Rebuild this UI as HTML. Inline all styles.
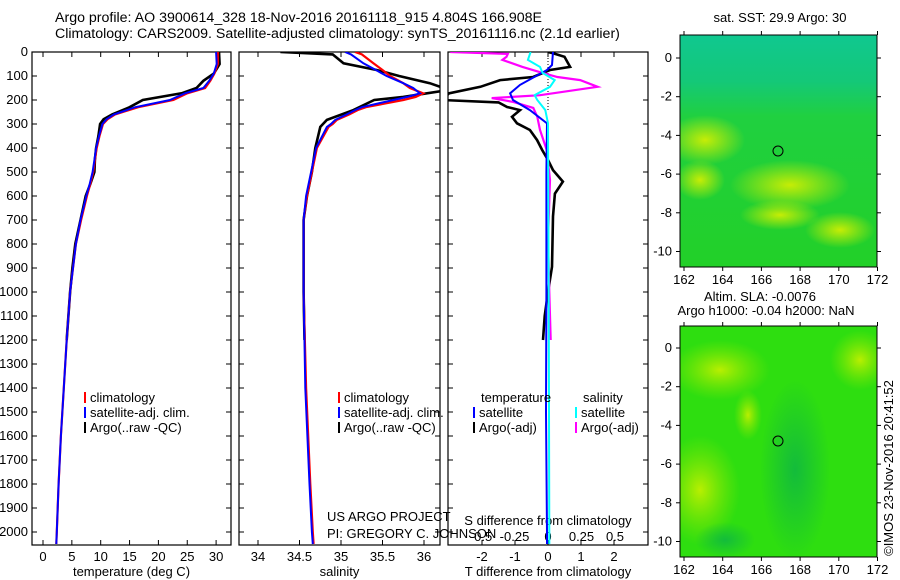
<!DOCTYPE html>
<html><head><meta charset="utf-8"><style>
body{margin:0;background:#fff;}
svg{display:block;font-family:"Liberation Sans",sans-serif;font-size:13px;}
</style></head><body>
<svg id="fig" width="900" height="580" viewBox="0 0 900 580">
<defs>
<clipPath id="c1"><rect x="32" y="52" width="199" height="493"/></clipPath>
<clipPath id="c2"><rect x="239" y="52" width="201" height="493"/></clipPath>
<clipPath id="c3"><rect x="448" y="52" width="200" height="493"/></clipPath>
<clipPath id="cm1"><rect x="680" y="35" width="197" height="232"/></clipPath>
<clipPath id="cm2"><rect x="680" y="326" width="197" height="231"/></clipPath>
<linearGradient id="sstg" x1="0" y1="0" x2="0" y2="1">
<stop offset="0" stop-color="#10c890"/><stop offset="0.2" stop-color="#14c878"/><stop offset="0.35" stop-color="#20d040"/><stop offset="1" stop-color="#22d028"/></linearGradient>
<radialGradient id="yl"><stop offset="0" stop-color="#d8f000" stop-opacity="0.9"/><stop offset="1" stop-color="#d8f000" stop-opacity="0"/></radialGradient>
<radialGradient id="yl2"><stop offset="0" stop-color="#c0f000" stop-opacity="0.95"/><stop offset="1" stop-color="#90e800" stop-opacity="0"/></radialGradient>
<radialGradient id="dk"><stop offset="0" stop-color="#10b840" stop-opacity="0.9"/><stop offset="1" stop-color="#10b840" stop-opacity="0"/></radialGradient>
</defs>
<text x="55" y="22" font-size="14.2">Argo profile: AO 3900614_328 18-Nov-2016 20161118_915 4.804S 166.908E</text>
<text x="55" y="38" font-size="14.2">Climatology: CARS2009. Satellite-adjusted climatology: synTS_20161116.nc (2.1d earlier)</text>
<g id="p1"></g>
<g id="p2"></g>
<g id="p3"></g>

<g>
<text x="780" y="22" text-anchor="middle">sat. SST: 29.9 Argo: 30</text>
<g clip-path="url(#cm1)">
<rect x="680" y="35" width="197" height="232" fill="url(#sstg)"/>
<ellipse cx="705" cy="140" rx="40" ry="25" fill="url(#yl)"/>
<ellipse cx="790" cy="185" rx="60" ry="25" fill="url(#yl)"/>
<ellipse cx="700" cy="180" rx="25" ry="20" fill="url(#yl)"/>
<ellipse cx="840" cy="230" rx="35" ry="18" fill="url(#yl)"/>
<ellipse cx="780" cy="215" rx="40" ry="15" fill="url(#yl)"/>
</g>
<circle cx="778" cy="151" r="5" fill="none" stroke="#000"/>
<rect x="680" y="35" width="197" height="232" fill="none" stroke="#000"/>
<g id="m1ax"></g>
</g>
<g>
<text x="760" y="301" text-anchor="middle">Altim. SLA: -0.0076</text>
<text x="766" y="315" text-anchor="middle">Argo h1000: -0.04 h2000: NaN</text>
<g clip-path="url(#cm2)">
<rect x="680" y="326" width="197" height="231" fill="#2ede10"/>
<ellipse cx="720" cy="370" rx="50" ry="30" fill="url(#yl2)"/>
<ellipse cx="700" cy="490" rx="40" ry="55" fill="url(#yl2)"/>
<ellipse cx="748" cy="415" rx="14" ry="25" fill="url(#yl2)"/>
<ellipse cx="860" cy="360" rx="30" ry="30" fill="url(#yl2)"/>
<ellipse cx="795" cy="470" rx="35" ry="90" fill="url(#dk)"/>
<ellipse cx="725" cy="540" rx="30" ry="18" fill="url(#dk)"/>
</g>
<circle cx="778" cy="441" r="5" fill="none" stroke="#000"/>
<rect x="680" y="326" width="197" height="231" fill="none" stroke="#000"/>
<g id="m2ax"></g>
</g>
<text x="0" y="0" transform="translate(893,468) rotate(-90)" text-anchor="middle">©IMOS 23-Nov-2016 20:41:52</text>
<text x="327" y="521">US ARGO PROJECT</text>
<text x="327" y="538">PI: GREGORY C. JOHNSON</text>
</svg>
<script>
// ---- data ----
const tDepth=[0,50,90,120,150,172,200,230,260,280,300,350,400,450,500,550,600,700,800,900,1000,1200,1400,1600,1800,2000,2050];
const tClim=[30.3,30.3,29.7,29.0,28.1,25.0,22.6,16.5,12.5,11.2,10.4,9.8,9.3,9.0,8.7,8.2,7.6,6.6,5.7,5.2,4.7,4.1,3.6,3.1,2.7,2.4,2.3];
const tSat=[30.0,30.1,29.6,28.8,27.8,24.6,22.0,16.0,12.3,11.0,10.3,9.7,9.2,8.9,8.6,8.1,7.5,6.5,5.7,5.2,4.7,4.1,3.6,3.1,2.7,2.4,2.3];
const tArgoDepth=[0,50,90,120,150,172,200,230,260,280,300,350,400,450,500,550,600,700,800,900,1000,1100,1200];
const tArgo=[30.5,30.6,29.6,27.8,26.6,24.0,17.3,15.0,12.0,10.5,9.9,9.6,9.2,9.0,8.9,8.2,7.4,6.5,5.6,5.1,4.7,4.4,4.1];
const sDepth=[0,10,47,75,100,130,150,172,187,200,230,242,260,283,300,312,400,500,600,700,1000,1400,1800,2000,2050];
const sClim=[35.17,35.25,35.39,35.5,35.59,35.75,35.83,35.99,35.9,35.75,35.3,35.2,35.1,34.95,34.9,34.85,34.71,34.65,34.59,34.55,34.55,34.58,34.63,34.66,34.67];
const sSat=[35.05,35.12,35.27,35.42,35.55,35.75,35.87,35.95,35.8,35.63,35.25,35.17,35.07,34.93,34.88,34.83,34.70,34.64,34.58,34.55,34.55,34.57,34.62,34.65,34.66];
const sArgoDepth=[0,10,47,75,100,130,158,187,200,242,283,312,400,500,600,700,1000,1200];
const sArgo=[34.27,34.9,35.03,35.43,35.7,36.07,36.3,35.75,35.4,35.15,34.83,34.75,34.69,34.65,34.59,34.55,34.55,34.56];
const dTArgoDepth=[0,5,20,62,75,104,117,145,172,200,210,229,242,270,297,325,367,408,450,492,540,590,685,895,1000,1100,1200];
const dTArgo=[0.0,0.15,0.5,0.67,0.06,-0.45,-1.45,-2.05,-3.0,-3.2,-1.5,-1.24,-0.85,-1.09,-0.94,-0.55,-0.33,-0.18,0,0.15,0.45,0.21,0.15,0.12,0.0,-0.1,-0.15];
const dTSatDepth=[0,54,75,137,172,200,242,297,500,1000,1500,2000,2050];
const dTSat=[0.15,0.12,-0.03,-0.85,-1.15,-1.06,-0.55,-0.03,-0.05,-0.05,-0.06,-0.03,-0.03];
const dSArgoDepth=[0,8,20,33,62,87,104,117,145,180,192,208,233,270,325,408,533,783,1000,1200];
const dSArgo=[-0.73,-0.3,-0.31,-0.34,-0.19,-0.04,0.07,0.24,0.37,-0.06,-0.42,-0.26,-0.11,-0.08,-0.06,-0.01,0.015,0,0.01,0.02];
const dSSatDepth=[0,33,62,87,117,145,180,200,242,297,1000,2000,2050];
const dSSat=[-0.13,-0.15,-0.06,-0.04,0.05,0.015,-0.1,-0.08,-0.02,0,0.005,0.01,0.01];
const depthTicks=[0,100,200,300,400,500,600,700,800,900,1000,1100,1200,1300,1400,1500,1600,1700,1800,1900,2000];
const tTicks=[0,5,10,15,20,25,30];
const sTicks=[34,34.5,35,35.5,36];
const dtTicks=[-2,-1,0,1,2];
const dsTicks=[-0.5,-0.25,0,0.25,0.5];
const dsTickLabels=['-0.5','-0.25','0','0.25','0.5'];
const lonTicks=[162,164,166,168,170,172];
const lat1Ticks=[0,-2,-4,-6,-8,-10];

// ---- scales ----
const Y=d=>52+0.24*d;
const XT=t=>43+5.77*t;
const XS=s=>258+83*(s-34);
const XdT=v=>548+33*v;
const XdS=v=>548+134*v;
const NS='http://www.w3.org/2000/svg';
function mk(tag,attrs,parent){const e=document.createElementNS(NS,tag);for(const k in attrs)e.setAttribute(k,attrs[k]);parent.appendChild(e);return e;}
function line(parent,xs,ds,xf,color,w,clip,name){
  const pts=xs.map((v,i)=>xf(v).toFixed(1)+','+Y(ds[i]).toFixed(1)).join(' ');
  const p=mk('polyline',{points:pts,fill:'none',stroke:color,'stroke-width':w,'clip-path':'url(#'+clip+')'},parent);
  
  
}
function box(parent,x0,x1,name){
  const r=mk('rect',{x:x0,y:52,width:x1-x0,height:493,fill:'none',stroke:'#000','stroke-width':1.2},parent);
  
  
  depthTicks.forEach(d=>{mk('line',{x1:x0,x2:x0+5,y1:Y(d),y2:Y(d),stroke:'#000'},parent);mk('line',{x1:x1-5,x2:x1,y1:Y(d),y2:Y(d),stroke:'#000'},parent);});
}
function xaxis(parent,ticks,labels,xf,y,x0,x1,title,tname){
  ticks.forEach((t,i)=>{const x=xf(t);
    mk('line',{x1:x,x2:x,y1:545,y2:540,stroke:'#000'},parent);
    mk('line',{x1:x,x2:x,y1:52,y2:57,stroke:'#000'},parent);
    const tx=mk('text',{x:x,y:y,'text-anchor':'middle'},parent);tx.textContent=labels[i];
    
    
  });
  if(title){const tt=mk('text',{x:(x0+x1)/2,y:576,'text-anchor':'middle'},parent);tt.textContent=title;
    
    }
}
function legend(parent,x,y,items){
  items.forEach((it,i)=>{
    mk('rect',{x:x,y:y+i*15-10,width:2,height:11,fill:it[1]},parent);
    const t=mk('text',{x:x+6,y:y+i*15},parent);t.textContent=it[0];
    
    
  });
}
const p1=document.getElementById('p1'),p2=document.getElementById('p2'),p3=document.getElementById('p3');
// panel 1
box(p1,32,231,'temperature-axes-box');
depthTicks.forEach(d=>{const t=mk('text',{x:28,y:Y(d)+4,'text-anchor':'end'},p1);t.textContent=d;
  
  });
xaxis(p1,tTicks,tTicks.map(String),XT,561,32,231,'temperature (deg C)','temperature-axis-title');
line(p1,tArgo,tArgoDepth,XT,'#000',2.6,'c1','temp-argo-line');
line(p1,tClim,tDepth,XT,'#f00',2.2,'c1','temp-climatology-line');
line(p1,tSat,tDepth,XT,'#00f',2,'c1','temp-satellite-line');
legend(p1,84,402,[['climatology','#f00'],['satellite-adj. clim.','#00f'],['Argo(..raw -QC)','#000']]);
// panel 2
box(p2,239,440,'salinity-axes-box');
xaxis(p2,sTicks,sTicks.map(String),XS,561,239,440,'salinity','salinity-axis-title');
line(p2,sArgo,sArgoDepth,XS,'#000',2.6,'c2','sal-argo-line');
line(p2,sClim,sDepth,XS,'#f00',2.2,'c2','sal-climatology-line');
line(p2,sSat,sDepth,XS,'#00f',2,'c2','sal-satellite-line');
legend(p2,338,402,[['climatology','#f00'],['satellite-adj. clim.','#00f'],['Argo(..raw -QC)','#000']]);
// panel 3
box(p3,448,648,'difference-axes-box');
xaxis(p3,dtTicks,dtTicks.map(String),XdT,561,448,648,'T difference from climatology','t-diff-axis-title');
dsTicks.forEach((t,i)=>{const tx=mk('text',{x:XdS(t),y:541,'text-anchor':'middle'},p3);tx.textContent=dsTickLabels[i];
  
  });
const st=mk('text',{x:548,y:525,'text-anchor':'middle'},p3);st.textContent='S difference from climatology';


mk('line',{x1:548,x2:548,y1:52,y2:112,stroke:'#000','stroke-dasharray':'1,2'},p3);
line(p3,dTArgo,dTArgoDepth,XdT,'#000',2.6,'c3','tdiff-argo-line');
line(p3,dSArgo,dSArgoDepth,XdS,'#f0f',2.2,'c3','sdiff-argo-line');
line(p3,dTSat,dTSatDepth,XdT,'#00f',2,'c3','tdiff-satellite-line');
line(p3,dSSat,dSSatDepth,XdS,'#0ff',2,'c3','sdiff-satellite-line');
const lt=mk('text',{x:481,y:402},p3);lt.textContent='temperature';


const ls=mk('text',{x:583,y:402},p3);ls.textContent='salinity';


legend(p3,473,417,[['satellite','#00f'],['Argo(-adj)','#000']]);
legend(p3,575,417,[['satellite','#0ff'],['Argo(-adj)','#f0f']]);
// map axes
function mapAx(g,y0,y1,lat0y){
  const LX=l=>684+19.35*(l-162);
  const LY=l=>lat0y-19.35*l;
  lonTicks.forEach(l=>{const x=LX(l);
    mk('line',{x1:x,x2:x,y1:y0-4,y2:y0,stroke:'#000'},g);
    mk('line',{x1:x,x2:x,y1:y1,y2:y1+4,stroke:'#000'},g);
    const t=mk('text',{x:x,y:y1+17,'text-anchor':'middle'},g);t.textContent=l;
    
    });
  lat1Ticks.forEach(l=>{const y=LY(l);
    mk('line',{x1:676,x2:680,y1:y,y2:y,stroke:'#000'},g);
    mk('line',{x1:877,x2:881,y1:y,y2:y,stroke:'#000'},g);
    const t=mk('text',{x:672,y:y+4,'text-anchor':'end'},g);t.textContent=l;
    
    });
}
mapAx(document.getElementById('m1ax'),35,267,58);
mapAx(document.getElementById('m2ax'),326,557,348);
</script>
</body></html>
